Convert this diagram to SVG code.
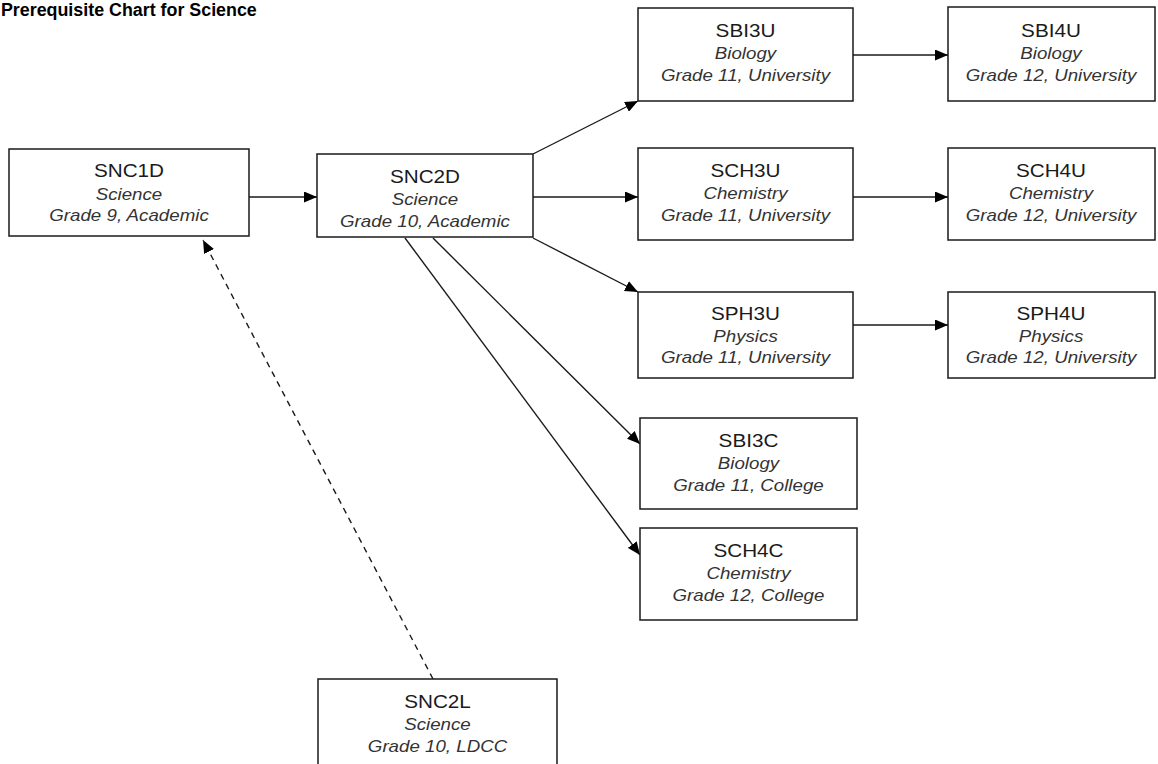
<svg xmlns="http://www.w3.org/2000/svg" width="1158" height="764" viewBox="0 0 1158 764">
<style>
.box{fill:#fff;stroke:#1a1a1a;stroke-width:1.5}
.code{font-family:"Liberation Sans",Arial,sans-serif;font-size:18px;fill:#1a1a1a;text-anchor:middle}
.sub{font-family:"Liberation Sans",Arial,sans-serif;font-size:16px;font-style:italic;fill:#333;text-anchor:middle}
.title{font-family:"Liberation Sans",Arial,sans-serif;font-size:19px;font-weight:bold;fill:#000}
.ln{fill:none;stroke:#1a1a1a;stroke-width:1.4}
.dash{stroke-dasharray:6 5}
</style>
<defs>
<marker id="ah" markerUnits="userSpaceOnUse" markerWidth="14" markerHeight="11" refX="13" refY="5.5" orient="auto">
<path d="M0,0 L13,5.5 L0,11 z" fill="#000"/>
</marker>
</defs>
<rect width="1158" height="764" fill="#fff"/>
<text class="title" x="1" y="16" transform="scale(0.94 1)">Prerequisite Chart for Science</text>

<g id="connectors">
<path class="ln" d="M249,197 L317,197" marker-end="url(#ah)"/>
<path class="ln" d="M533,154 L638,101" marker-end="url(#ah)"/>
<path class="ln" d="M533,197 L638,197" marker-end="url(#ah)"/>
<path class="ln" d="M533,238 L638,292" marker-end="url(#ah)"/>
<path class="ln" d="M433,238 L640,444" marker-end="url(#ah)"/>
<path class="ln" d="M405,238 L640,555" marker-end="url(#ah)"/>
<path class="ln" d="M853,55 L948,55" marker-end="url(#ah)"/>
<path class="ln" d="M853,197 L948,197" marker-end="url(#ah)"/>
<path class="ln" d="M853,325 L948,325" marker-end="url(#ah)"/>
<path class="ln dash" d="M433,679 L203,240" marker-end="url(#ah)"/>
</g>

<g id="SNC1D">
<rect class="box" x="9" y="149" width="240" height="87"/>
<g transform="translate(129,149)">
<text class="code" y="28" transform="scale(1.15 1)">SNC1D</text>
<text class="sub" y="51" transform="scale(1.17 1)">Science</text>
<text class="sub" y="72" transform="scale(1.17 1)">Grade 9, Academic</text>
</g>
</g>

<g id="SNC2D">
<rect class="box" x="317" y="154" width="216" height="83"/>
<g transform="translate(425,154)">
<text class="code" y="29" transform="scale(1.15 1)">SNC2D</text>
<text class="sub" y="51" transform="scale(1.17 1)">Science</text>
<text class="sub" y="73" transform="scale(1.17 1)">Grade 10, Academic</text>
</g>
</g>

<g id="SBI3U">
<rect class="box" x="638" y="8" width="215" height="93"/>
<g transform="translate(745.5,8)">
<text class="code" y="29" transform="scale(1.15 1)">SBI3U</text>
<text class="sub" y="51" transform="scale(1.17 1)">Biology</text>
<text class="sub" y="73" transform="scale(1.17 1)">Grade 11, University</text>
</g>
</g>

<g id="SBI4U">
<rect class="box" x="948" y="7" width="207" height="94"/>
<g transform="translate(1051,7)">
<text class="code" y="30" transform="scale(1.15 1)">SBI4U</text>
<text class="sub" y="52" transform="scale(1.17 1)">Biology</text>
<text class="sub" y="74" transform="scale(1.17 1)">Grade 12, University</text>
</g>
</g>

<g id="SCH3U">
<rect class="box" x="638" y="148" width="215" height="92"/>
<g transform="translate(745.5,148)">
<text class="code" y="29" transform="scale(1.15 1)">SCH3U</text>
<text class="sub" y="51" transform="scale(1.17 1)">Chemistry</text>
<text class="sub" y="73" transform="scale(1.17 1)">Grade 11, University</text>
</g>
</g>

<g id="SCH4U">
<rect class="box" x="948" y="148" width="207" height="92"/>
<g transform="translate(1051,148)">
<text class="code" y="29" transform="scale(1.15 1)">SCH4U</text>
<text class="sub" y="51" transform="scale(1.17 1)">Chemistry</text>
<text class="sub" y="73" transform="scale(1.17 1)">Grade 12, University</text>
</g>
</g>

<g id="SPH3U">
<rect class="box" x="638" y="292" width="215" height="86"/>
<g transform="translate(745.5,292)">
<text class="code" y="28" transform="scale(1.15 1)">SPH3U</text>
<text class="sub" y="50" transform="scale(1.17 1)">Physics</text>
<text class="sub" y="71" transform="scale(1.17 1)">Grade 11, University</text>
</g>
</g>

<g id="SPH4U">
<rect class="box" x="948" y="292" width="207" height="86"/>
<g transform="translate(1051,292)">
<text class="code" y="28" transform="scale(1.15 1)">SPH4U</text>
<text class="sub" y="50" transform="scale(1.17 1)">Physics</text>
<text class="sub" y="71" transform="scale(1.17 1)">Grade 12, University</text>
</g>
</g>

<g id="SBI3C">
<rect class="box" x="640" y="418" width="217" height="91"/>
<g transform="translate(748.5,418)">
<text class="code" y="29" transform="scale(1.15 1)">SBI3C</text>
<text class="sub" y="51" transform="scale(1.17 1)">Biology</text>
<text class="sub" y="73" transform="scale(1.17 1)">Grade 11, College</text>
</g>
</g>

<g id="SCH4C">
<rect class="box" x="640" y="528" width="217" height="92"/>
<g transform="translate(748.5,528)">
<text class="code" y="29" transform="scale(1.15 1)">SCH4C</text>
<text class="sub" y="51" transform="scale(1.17 1)">Chemistry</text>
<text class="sub" y="73" transform="scale(1.17 1)">Grade 12, College</text>
</g>
</g>

<g id="SNC2L">
<rect class="box" x="318" y="679" width="239" height="100"/>
<g transform="translate(437.5,679)">
<text class="code" y="29" transform="scale(1.15 1)">SNC2L</text>
<text class="sub" y="51" transform="scale(1.17 1)">Science</text>
<text class="sub" y="73" transform="scale(1.17 1)">Grade 10, LDCC</text>
</g>
</g>
</svg>
